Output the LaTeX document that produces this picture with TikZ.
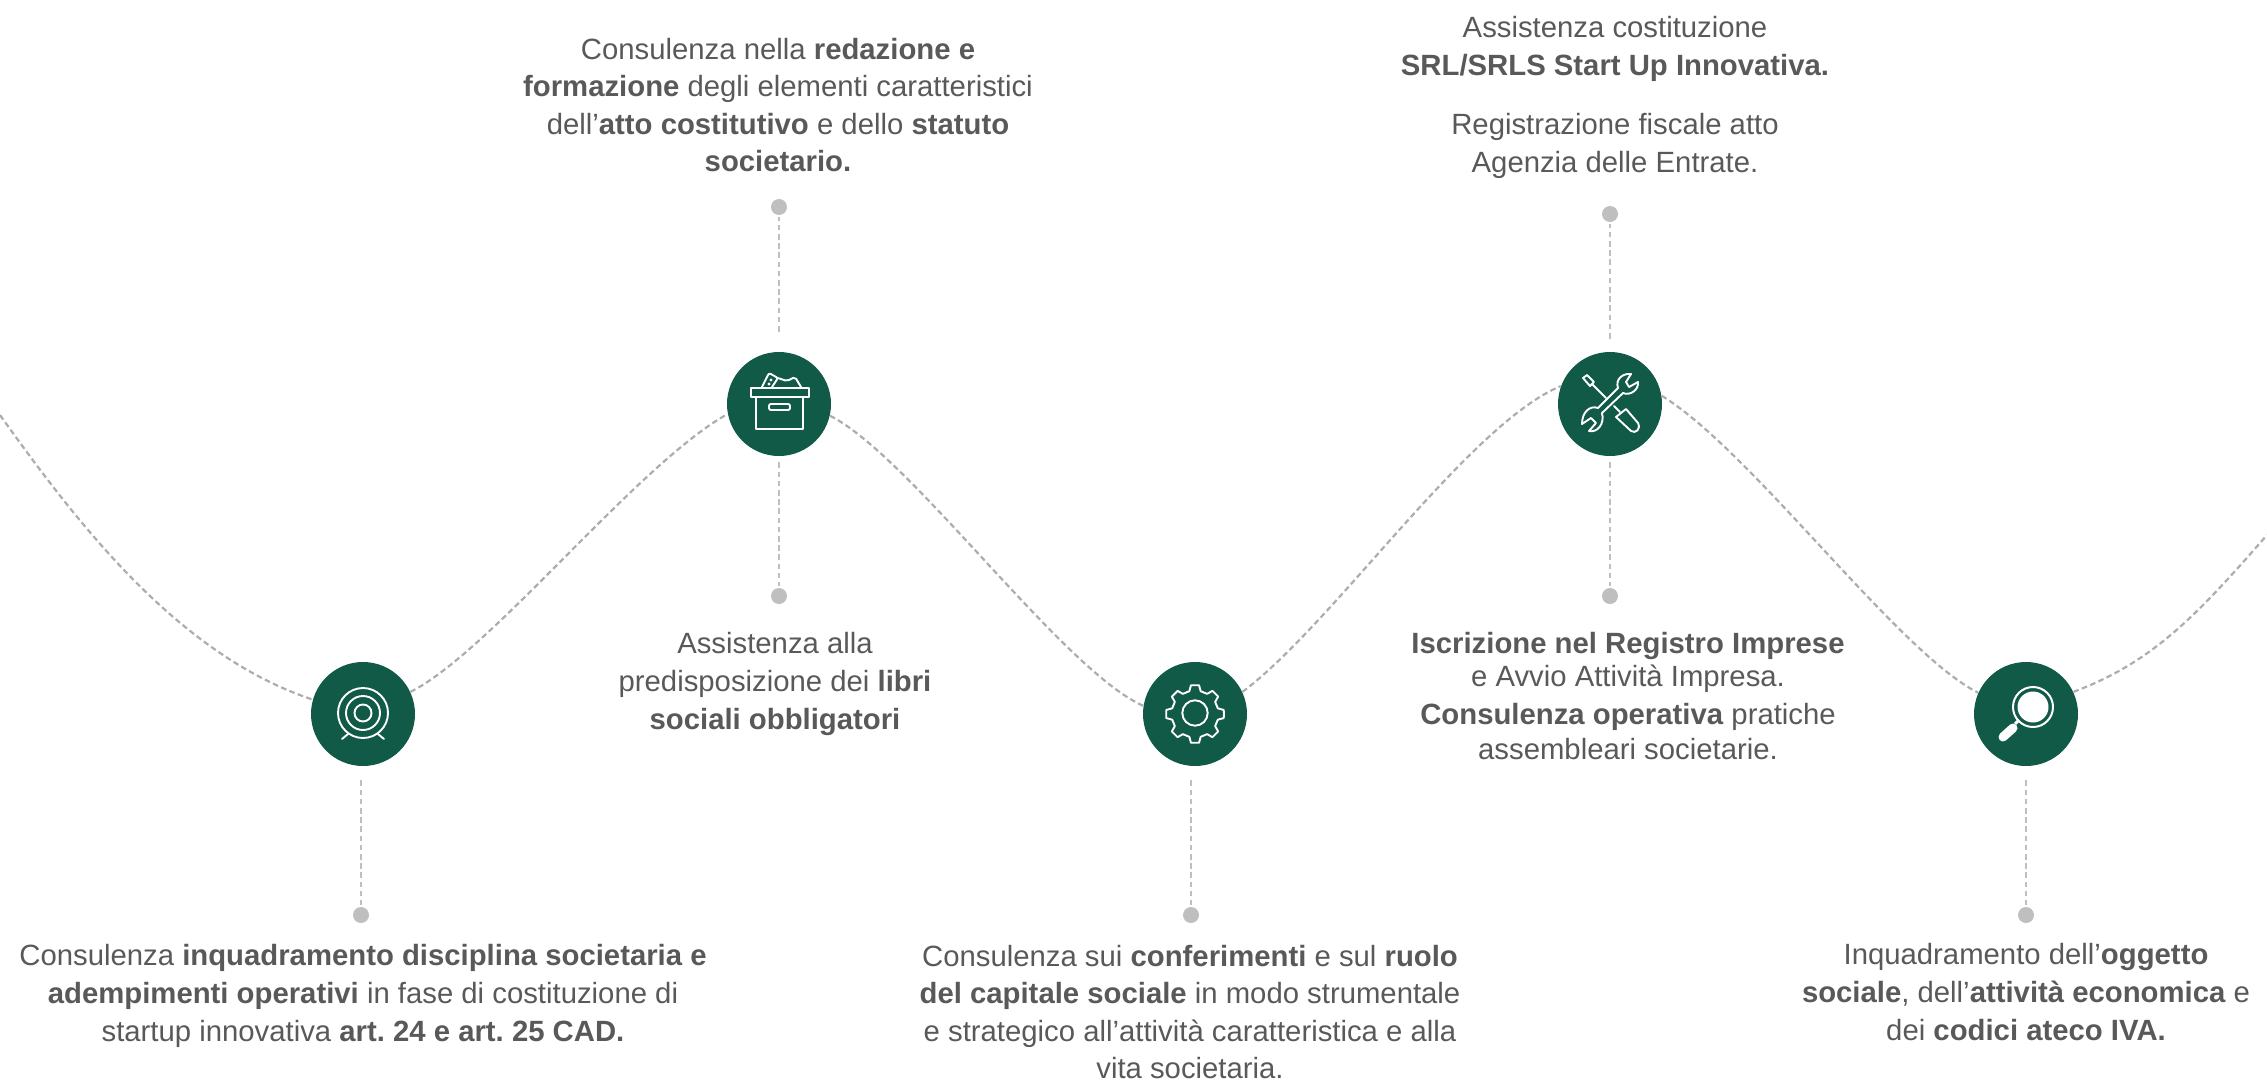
\documentclass[tikz,border=0pt]{standalone}
\usepackage{fontspec}
\setmainfont{Liberation Sans}
\definecolor{hubgreen}{HTML}{125A48}
\definecolor{labelgray}{HTML}{595959}
\definecolor{wavegray}{HTML}{ADADAD}
\definecolor{dotgray}{HTML}{BFBFBF}
\tikzset{
    hubnode/.style={
        circle,
        fill=hubgreen,
        minimum size=52pt,
        inner sep=0
    },
    dotnode/.style={
        circle,
        fill=dotgray,
        minimum size=8pt,
        inner sep=0
    },
    textnode/.style={
        align=center,
        text=labelgray,
        inner sep=0,
        font=\fontsize{14.65}{18.8}\selectfont
    },
    wave/.style={
        draw=wavegray,
        line width=1.1pt,
        dash pattern=on 2.8pt off 1.7pt
    },
    drop/.style={
        draw=dotgray,
        line width=1.3pt,
        dash pattern=on 2.8pt off 1.8pt,
        shorten <=7pt,
        shorten >=1pt
    },
    icon/.style={
        draw=white,
        line width=0.95pt,
        line join=round,
        line cap=round
    }
}

\begin{document}
\frenchspacing
\begin{tikzpicture}[x=0.5pt,y=-0.5pt]
    \useasboundingbox (0,0) rectangle (2267,1088);
    % tappe
    \node[hubnode] (target) at (363,714) {};
    \node[hubnode] (box) at (779,404) {};
    \node[hubnode] (gear) at (1195,714) {};
    \node[hubnode] (tools) at (1610,404) {};
    \node[hubnode] (lens) at (2026,714) {};
    % pallini
    \node[dotnode] (targetdot) at (361,915) {};
    \node[dotnode] (boxupdot) at (779,207) {};
    \node[dotnode] (boxdowndot) at (779,596) {};
    \node[dotnode] (geardot) at (1191,915) {};
    \node[dotnode] (toolsupdot) at (1610,214) {};
    \node[dotnode] (toolsdowndot) at (1610,596) {};
    \node[dotnode] (lensdot) at (2026,915) {};
    % onda
    \coordinate (wavein) at (0,415);
    \coordinate (waveout) at (2267,535);
    \draw[wave] (wavein) .. controls +(82,115) and +(-132,-44) .. (target.164);
    \draw[wave] (target.25) .. controls +(80,-40) and +(-90,50) .. (box.191);
    \draw[wave] (box.-13) .. controls +(80,40) and +(-80,-35) .. (gear.171);
    \draw[wave] (gear.25) .. controls +(90,-67) and +(-92,38) .. (tools.160);
    \draw[wave] (tools.9) .. controls +(90,55) and +(-80,-40) .. (lens.156);
    \draw[wave] (lens.25) .. controls +(80,-30) and +(-70,80) .. (waveout);
    % tratteggi verticali
    \draw[drop] (target.south -| targetdot) -- (targetdot);
    \draw[drop,shorten <=10pt] (box.north) -- (boxupdot);
    \draw[drop,shorten <=3pt] (box.south) -- (boxdowndot);
    \draw[drop] (gear.south -| geardot) -- (geardot);
    \draw[drop,shorten <=6.5pt] (tools.north) -- (toolsupdot);
    \draw[drop,shorten <=3pt] (tools.south) -- (toolsdowndot);
    \draw[drop] (lens.south) -- (lensdot);
    % icone
    \begin{scope}[shift={(target)}]
        \draw[icon] (0,-1) circle (25) (0,-1) circle (17) (0,-1) circle (8.5);
        \draw[icon] (-15,20) -- (-21,25) (15,20) -- (21,25);
    \end{scope}
    \begin{scope}[shift={(box)}]
        \draw[icon] (-28,-16) rectangle (30,-7);
        \draw[icon] (-23,-7) -- (-23,25) -- (24,25) -- (24,-7);
        \draw[icon,rounded corners=1pt] (-10,0) rectangle (11,6);
        \draw[icon,rounded corners=1pt] (-17,-17) -- (-10,-31) -- (-1,-26) -- (-7,-17);
        \draw[icon,rounded corners=1pt] (-1,-26) -- (8,-23) -- (16,-27) -- (22,-17);
        \fill[white] (-8,-24) circle (1.6) (-10,-20) circle (1.6);
    \end{scope}
    \begin{scope}[shift={(gear)}]
        \draw[icon] (0,-1) circle (12.7);
        \draw[icon] (0:29) \foreach \a in {0,45,...,315} {
            -- (\a+8:29) -- (\a+14:23.5) -- (\a+31:23.5) -- (\a+37:29)
        } -- cycle;
    \end{scope}
    \begin{scope}[shift={(tools)}]
        \draw[icon] (21,-30) .. controls (13,-31) and (5,-25) .. (8,-16) -- (-12,4)
            .. controls (-20,1) and (-28,8) .. (-28,20) -- (-19,14) -- (-14,19) -- (-21,27)
            .. controls (-13,29) and (-5,20) .. (-8,9) -- (13,-11)
            .. controls (20,-8) and (29,-14) .. (28,-22) -- (19,-17) -- (16,-22) -- cycle;
        \draw[icon] (-27,-26) -- (-23,-29) -- (-16,-22) -- (-20,-18) -- cycle;
        \draw[icon] (-18,-20) -- (-4,-6) (4,2) -- (10,8);
        \draw[icon] (6,13) -- (16,5) -- (28,19) .. controls (31,25) and (26,30) .. (21,27) -- cycle;
    \end{scope}
    \begin{scope}[shift={(lens)}]
        \draw[white,line width=1pt] (7,-7) circle (20);
        \fill[white] (7,-7) circle (15.5);
        \draw[white,line width=4.5pt,line cap=round] (-23,23) -- (-13,14);
        \draw[white,line width=1.5pt] (-11,10) -- (-7,6);
    \end{scope}
    % testi
    \node[textnode] (targettext) at (363,996) {Consulenza \textbf{inquadramento disciplina societaria e}\\\textbf{adempimenti operativi} in fase di costituzione di\\startup innovativa \textbf{art. 24 e art. 25 CAD.}};
    \node[textnode] (boxuptext) at (778,105) {Consulenza nella \textbf{redazione e}\\\textbf{formazione} degli elementi caratteristici\\dell’\textbf{atto costitutivo} e dello \textbf{statuto}\\\textbf{societario.}};
    \node[textnode] (boxdowntext) at (775,684) {Assistenza alla\\predisposizione dei \textbf{libri}\\\textbf{sociali obbligatori}};
    \node[textnode] (geartext) at (1190,1012) {Consulenza sui \textbf{conferimenti} e sul \textbf{ruolo}\\\textbf{del capitale sociale} in modo strumentale\\e strategico all’attività caratteristica e alla\\vita societaria.};
    \node[textnode] (toolsuptext) at (1615,49) {Assistenza costituzione\\\textbf{SRL/SRLS Start Up Innovativa.}};
    \node[textnode] (toolsuptext2) at (1615,146) {Registrazione fiscale atto\\Agenzia delle Entrate.};
    \node[textnode] (toolsdowntext) at (1628,696) {\textbf{Iscrizione nel Registro Imprese}\\[-2.3pt]e Avvio Attività Impresa.\\\textbf{Consulenza operativa} pratiche\\[-1.4pt]assembleari societarie.};
    \node[textnode] (lenstext) at (2026,992) {Inquadramento dell’\textbf{oggetto}\\\textbf{sociale}, dell’\textbf{attività economica} e\\dei \textbf{codici ateco IVA.}};
\end{tikzpicture}
\end{document}
